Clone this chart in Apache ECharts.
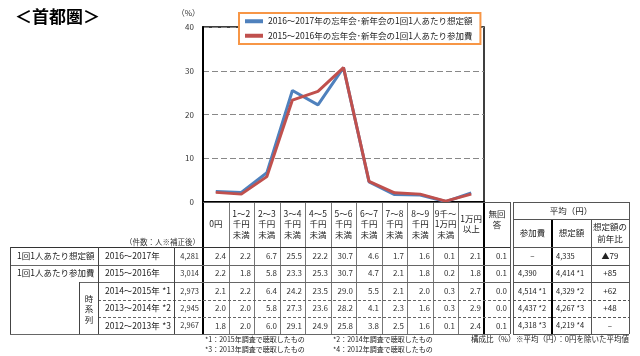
<!DOCTYPE html>
<html><head><meta charset="utf-8">
<script src="https://cdn.jsdelivr.net/npm/echarts@6/dist/echarts.min.js"></script>
<style>html,body{margin:0;padding:0;background:#fff}#c{width:640px;height:356px}</style>
</head><body><div id="c"></div>
<script>
// ---- data ----
const categories = ['0円','1～2\n千円\n未満','2～3\n千円\n未満','3～4\n千円\n未満','4～5\n千円\n未満','5～6\n千円\n未満','6～7\n千円\n未満','7～8\n千円\n未満','8～9\n千円\n未満','9千～\n1万円\n未満','1万円\n以上'];
const noAnswerHeader = '無回\n答';
const seriesNames = ['2016～2017年の忘年会･新年会の1回1人あたり想定額','2015～2016年の忘年会･新年会の1回1人あたり参加費'];
const expected2017 = [2.4,2.2,6.7,25.5,22.2,30.7,4.6,1.7,1.6,0.1,2.1];
const participation2016 = [2.2,1.8,5.8,23.3,25.3,30.7,4.7,2.1,1.8,0.2,1.8];
const participation2015 = [2.1,2.2,6.4,24.2,23.5,29.0,5.5,2.1,2.0,0.3,2.7];
const participation2014 = [2.0,2.0,5.8,27.3,23.6,28.2,4.1,2.3,1.6,0.3,2.9];
const participation2013 = [1.8,2.0,6.0,29.1,24.9,25.8,3.8,2.5,1.6,0.1,2.4];
const noAnswer = [0.1,0.1,0.0,0.0,0.1];
const yTicks = {min:0,max:40,interval:10};
const rowLabels = ['1回1人あたり想定額','1回1人あたり参加費'];
const timeSeriesLabel = '時\n系\n列';
const rowYears = ['2016～2017年','2015～2016年','2014～2015年','2013～2014年','2012～2013年'];
const rowNotes = ['','','*1','*2','*3'];
const rowCounts = ['4,281','3,014','2,973','2,945','2,967'];
const avgTitle = '平均（円）';
const avgHeaders = ['参加費','想定額','想定額の\n前年比'];
const avgParticipation = ['–','4,390','4,514 *1','4,437 *2','4,318 *3'];
const avgExpected = ['4,335','4,414 *1','4,329 *2','4,267 *3','4,219 *4'];
const avgChange = ['▲79','+85','+62','+48','–'];
const footnotes = ['*1：2015年調査で聴取したもの','*2：2014年調査で聴取したもの','*3：2013年調査で聴取したもの','*4：2012年調査で聴取したもの'];

// ---- layout ----
const FONT = '"Noto Sans CJK JP","Noto Sans",sans-serif';
const gL = 203, gT = 27, gW = 281, gH = 175;
const colW = gW / categories.length;
const rowY = [247, 264.5, 282, 299.5, 317, 334];
const g = [];
function txt(x, y, t, o) {
  o = o || {};
  g.push({type:'text', z:100, style:{x:x, y:y, text:t, fill:o.fill||'#222',
    font:(o.weight||'normal')+' '+(o.size||8.5)+'px '+FONT, textAlign:o.align||'left', align:o.align||'left',
    textVerticalAlign:'middle', verticalAlign:'middle', lineHeight:o.lh||11}});
}
function ln(x1, y1, x2, y2, o) {
  o = o || {};
  g.push({type:'line', z:90, shape:{x1:x1, y1:y1, x2:x2, y2:y2},
    style:{stroke:o.c||'#555', lineWidth:o.w||1, lineDash:o.dash||null}});
}
// title
txt(15, 17, '＜首都圏＞', {size:17, weight:'bold', fill:'#000'});
txt(200, 13, '（%）', {size:8, align:'right', fill:'#333'});
// main table
const xEnd = gL + gW, xNA = xEnd + 26;
const tableRows = [expected2017, participation2016, participation2015, participation2014, participation2013];
for (let i = 0; i <= categories.length; i++) {
  const x = Math.round(gL + i * colW) + 0.5;
  ln(x, gT + gH, x, rowY[5], {c: '#777'});
}
ln(xNA + 0.5, gT + gH, xNA + 0.5, rowY[5], {c:'#555'});
ln(gL, gT + gH, gL, rowY[5], {c:'#000', w:2});
ln(xEnd, gT + gH, xEnd, rowY[5], {c:'#000', w:2});
ln(gL, gT + gH + 0.5, xNA, gT + gH + 0.5, {c:'#555'});
txt((xEnd + xNA) / 2, (gT + gH + rowY[0]) / 2 - 5, noAnswerHeader, {size:8.5, align:'center', lh:11});
for (let r = 0; r < 5; r++) {
  const cy = (rowY[r] + rowY[r + 1]) / 2;
  tableRows[r].forEach((v, i) => {
    txt(Math.round(gL + (i + 1) * colW) - 3, cy, v.toFixed(1), {size:8, align:'right', fill:'#333'});
  });
  txt(xNA - 3, cy, noAnswer[r].toFixed(1), {size:8, align:'right', fill:'#333'});
  txt(105, cy, rowYears[r], {size:8.5});
  if (rowNotes[r]) txt(171, cy, rowNotes[r], {size:8.5, align:'right'});
  txt(199, cy, rowCounts[r], {size:7.5, align:'right', fill:'#333'});
}
// horizontal row lines
for (let r = 0; r <= 5; r++) {
  const y = Math.round(rowY[r]) + 0.5;
  const dash = (r === 3 || r === 4) ? [3, 2] : null;
  let x0 = 10;
  if (r === 2) x0 = 79;
  if (r === 3 || r === 4) x0 = 98;
  ln(x0, y, xNA, y, {c: r === 0 ? '#333' : '#666', dash: dash, w: r === 0 ? 1.2 : 1});
}
ln(10.5, rowY[0], 10.5, rowY[5], {c:'#444'});
ln(98.5, rowY[0], 98.5, rowY[5], {c:'#444'});
ln(79.5, rowY[2], 79.5, rowY[5], {c:'#444'});
ln(174.5, rowY[0], 174.5, rowY[5], {c:'#444'});
txt(17, (rowY[0] + rowY[1]) / 2, rowLabels[0], {size:8.5});
txt(17, (rowY[1] + rowY[2]) / 2, rowLabels[1], {size:8.5});
txt(89, 309, timeSeriesLabel, {size:8.5, align:'center', lh:10.5});
txt(200, 242, '（件数：人※補正後）', {size:7.5, align:'right', fill:'#333'});
// average table
const ax = [513, 552, 591, 629];
const hTop = gT + gH, hMid = 219;
ln(ax[0] + 0.5, hTop, ax[0] + 0.5, rowY[5], {c:'#555'});
ln(ax[3] + 0.5, hTop, ax[3] + 0.5, rowY[5], {c:'#555'});
ln(ax[1], hMid, ax[1], rowY[5], {c:'#000', w:2});
ln(ax[2] + 0.5, hMid, ax[2] + 0.5, rowY[5], {c:'#555'});
ln(ax[0], hTop + 0.5, ax[3], hTop + 0.5, {c:'#555'});
ln(ax[0], hMid + 0.5, ax[3], hMid + 0.5, {c:'#555'});
for (let r = 0; r <= 5; r++) {
  const y = Math.round(rowY[r]) + 0.5;
  ln(ax[0], y, ax[3], y, {c: '#555', dash: (r === 3 || r === 4) ? [3, 2] : null});
}
txt((ax[0] + ax[3]) / 2, (hTop + hMid) / 2, avgTitle, {size:8.5, align:'center'});
avgHeaders.forEach((h, i) => txt((ax[i] + ax[i + 1]) / 2, (hMid + rowY[0]) / 2, h, {size:8.5, align:'center', lh:12}));
for (let r = 0; r < 5; r++) {
  const cy = (rowY[r] + rowY[r + 1]) / 2;
  if (avgParticipation[r] === '–') txt((ax[0] + ax[1]) / 2, cy, avgParticipation[r], {size:8, align:'center'});
  else txt(ax[0] + 5, cy, avgParticipation[r], {size:7.5});
  txt(ax[1] + 4, cy, avgExpected[r], {size:7.5});
  txt((ax[2] + ax[3]) / 2, cy, avgChange[r], {size:8, align:'center'});
}
// footnotes
txt(205, 339, footnotes[0], {size:7});
txt(333, 339, footnotes[1], {size:7});
txt(205, 349, footnotes[2], {size:7});
txt(333, 349, footnotes[3], {size:7});
txt(471, 339, '構成比（%）', {size:7.5});
txt(516, 339, '※平均（円）：0円を除いた平均値', {size:7.5});

const chart = echarts.init(document.getElementById('c'), null, {renderer:'canvas'});
chart.setOption({
  animation: false,
  backgroundColor: '#fff',
  textStyle: {fontFamily: FONT},
  grid: {left: gL, top: gT, width: gW, height: gH, show: true, borderColor: '#000', borderWidth: 1.5, backgroundColor: 'transparent'},
  legend: {
    data: seriesNames, orient: 'vertical', left: 239, top: 13,
    padding: [4, 8, 4, 6], itemGap: 6, itemWidth: 18, itemHeight: 4, icon: 'rect',
    borderColor: '#F79646', borderWidth: 2, backgroundColor: '#fff',
    textStyle: {fontSize: 8.5, color: '#222', fontFamily: FONT}
  },
  xAxis: {
    type: 'category', data: categories, boundaryGap: true,
    axisLine: {lineStyle: {color: '#000', width: 2}},
    axisTick: {show: false},
    axisLabel: {interval: 0, fontSize: 8.5, lineHeight: 10.5, color: '#222', verticalAlign: 'middle', margin: 22, fontFamily: FONT}
  },
  yAxis: {
    type: 'value', min: yTicks.min, max: yTicks.max, interval: yTicks.interval,
    axisLine: {show: true, lineStyle: {color: '#000', width: 2}},
    axisTick: {show: false},
    axisLabel: {fontSize: 8, color: '#333', margin: 9},
    splitLine: {lineStyle: {color: '#888', type: [6, 3], width: 1}}
  },
  series: [
    {name: seriesNames[0], type: 'line', data: expected2017, symbol: 'none', lineStyle: {width: 3, color: '#4F81BD'}, itemStyle: {color: '#4F81BD'}},
    {name: seriesNames[1], type: 'line', data: participation2016, symbol: 'none', lineStyle: {width: 3, color: '#C0504D'}, itemStyle: {color: '#C0504D'}}
  ],
  graphic: g
});
</script></body></html>
